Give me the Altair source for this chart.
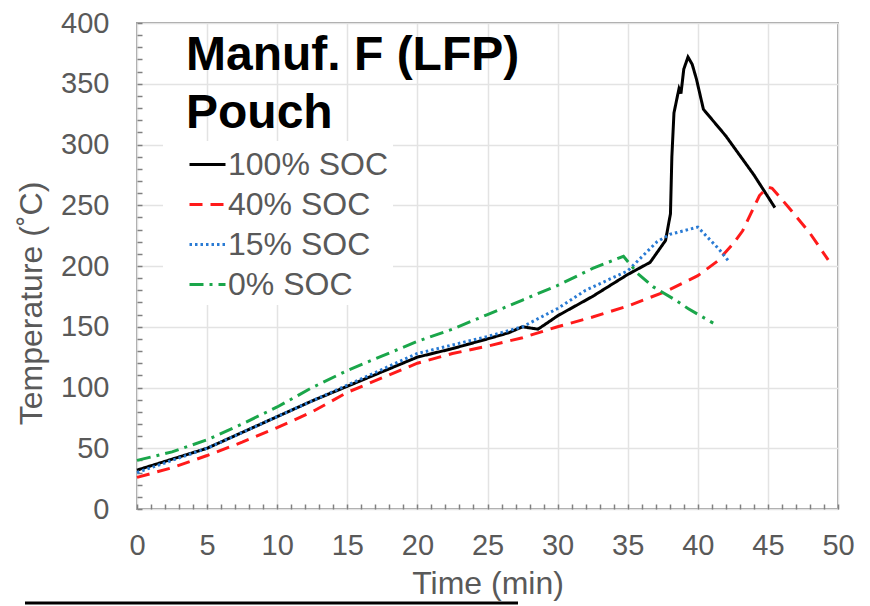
import altair as alt
import pandas as pd

series = ["100% SOC", "40% SOC", "15% SOC", "0% SOC"]
colors = ["#000000", "#ff1a1a", "#2a7bd4", "#1aa64a"]
dashes = [[1, 0], [13, 8], [2.5, 3], [14, 6, 3, 6]]

t_100 = [0, 2.5, 5, 7.5, 10, 12.5, 15, 17.5, 20, 22.5, 25, 26.5, 27.5, 28.6, 29.5, 30, 32.5, 35, 36.6, 37.7,
         38.05, 38.15, 38.3, 38.55, 38.66, 38.8, 39.0, 39.3, 39.6, 39.9, 40.4, 42.0, 44.0, 45.5]
T_100 = [32, 41, 50, 63, 76, 89, 101, 113, 125, 132, 140, 145, 150, 148, 155, 159, 175, 193, 203, 221,
         243, 290, 326, 340, 346, 342, 362, 372, 366, 354, 329, 307, 275, 248]

t_40 = [0, 2.5, 5, 7.5, 10, 12.5, 15, 17.5, 20, 22.5, 25, 27.5, 30, 32.5, 35, 37.7, 40, 41.4, 42.5, 43.2,
        44.4, 45.0, 45.3, 46.5, 48.0, 49.3]
T_40 = [26, 34, 44, 55, 67, 80, 96, 108, 120, 128, 134, 141, 150, 158, 167, 179, 192, 204, 218, 229,
        258, 265, 264, 248, 227, 205]

t_15 = [0, 2.5, 5, 7.5, 10, 12.5, 15, 17.5, 20, 22.5, 25, 27.5, 30, 32, 35, 37.1, 38, 39, 40, 40.5, 41.5, 42.2]
T_15 = [30, 40, 50, 63, 76, 89, 102, 115, 128, 135, 142, 150, 165, 180, 196, 220, 226, 229, 232, 226, 214, 204]

t_0 = [0, 2.5, 5, 7.5, 10, 12.5, 15, 17.5, 20, 22.5, 25, 27.5, 30, 32.5, 34.7, 35.7, 36.8, 38.4, 39.3, 41.1]
T_0 = [40, 47, 57, 70, 84, 100, 114, 126, 138, 148, 160, 172, 184, 198, 208, 194, 183, 172, 165, 153]

x_grid = [0, 5, 10, 15, 20, 25, 30, 35, 40, 45, 50]
y_grid = [0, 50, 100, 150, 200, 250, 300, 350, 400]
x_minor = list(range(0, 51))
y_minor = list(range(0, 401, 10))

rows = []
for name, ts, vs in [(series[0], t_100, T_100), (series[1], t_40, T_40),
                     (series[2], t_15, T_15), (series[3], t_0, T_0)]:
    for i, (t, v) in enumerate(zip(ts, vs)):
        rows.append({"series": name, "t": t, "T": v, "i": i})
df = pd.DataFrame(rows)

W, H = 701, 486
FONT = "Liberation Sans"
GREY = "#595959"
xs = alt.Scale(domain=[0, 50], nice=False)
ys = alt.Scale(domain=[0, 400], nice=False)

lines = alt.Chart(df).mark_line(strokeWidth=3, strokeCap="butt").encode(
    x=alt.X("t:Q", scale=xs, axis=alt.Axis(
        orient="bottom", title="Time (min)", values=x_grid, grid=True, ticks=False, tickSize=0, domain=False,
        labelPadding=22, labelFontSize=29, labelColor=GREY, labelFont=FONT,
        titleFontSize=32, titleFont=FONT, titleColor=GREY, titleFontWeight="normal", titlePadding=8,
        gridColor="#e3e3e3", gridWidth=1.5, labelFlush=False)),
    y=alt.Y("T:Q", scale=ys, axis=alt.Axis(
        orient="left", title="Temperature (˚C)", values=y_grid, grid=True, ticks=False, tickSize=0, domain=False,
        labelPadding=28, labelFontSize=29, labelColor=GREY, labelFont=FONT,
        titleFontSize=32, titleFont=FONT, titleColor=GREY, titleFontWeight="normal",
        titleX=-106, titleY=280, titleAlign="center", titleBaseline="middle",
        gridColor="#e3e3e3", gridWidth=1.5, labelFlush=False)),
    color=alt.Color("series:N", scale=alt.Scale(domain=series, range=colors), legend=alt.Legend(title=None)),
    strokeDash=alt.StrokeDash("series:N", scale=alt.Scale(domain=series, range=dashes), legend=alt.Legend(title=None)),
    order="i:Q",
)

ticks = alt.Chart(df).mark_point(opacity=0).encode(
    x=alt.X("t:Q", scale=xs, axis=alt.Axis(
        orient="top", offset=-H, values=x_minor, labels=False, grid=False, domain=False,
        tickSize=5, tickColor="#808080", tickWidth=1.5, title=None)),
    y=alt.Y("T:Q", scale=ys, axis=alt.Axis(
        orient="right", offset=-W, values=y_minor, labels=False, grid=False, domain=False,
        tickSize=5, tickColor="#808080", tickWidth=1.5, title=None)),
)

title = alt.Chart(pd.DataFrame({"txt": ["Manuf. F (LFP)\nPouch"]})).mark_text(
    align="left", baseline="alphabetic", fontSize=48, fontWeight="bold", font=FONT,
    lineBreak="\n", lineHeight=58, color="black"
).encode(x=alt.value(49), y=alt.value(47), text="txt:N")

rule = alt.Chart(pd.DataFrame({"a": [0]})).mark_rule(color="black", strokeWidth=3, clip=False).encode(
    x=alt.value(-112), x2=alt.value(381), y=alt.value(580))

chart = alt.layer(lines, ticks, title, rule).resolve_axis(
    x="independent", y="independent"
).properties(
    width=W, height=H,
    padding={"left": 129, "top": 15, "right": 24, "bottom": 97},
    autosize=alt.AutoSizeParams(type="none"),
).configure_view(
    stroke="#a0a0a0", strokeWidth=2
).configure_legend(
    orient="none", legendX=26, legendY=118,
    fillColor="white", padding=4, symbolOffset=21,
    symbolType="stroke", symbolSize=1296, symbolStrokeWidth=3,
    labelFontSize=32, labelFont=FONT, labelColor=GREY, labelOffset=1,
    rowPadding=4, labelLimit=400,
)

chart.save("out.html", embed_options={"renderer": "svg", "actions": False})
